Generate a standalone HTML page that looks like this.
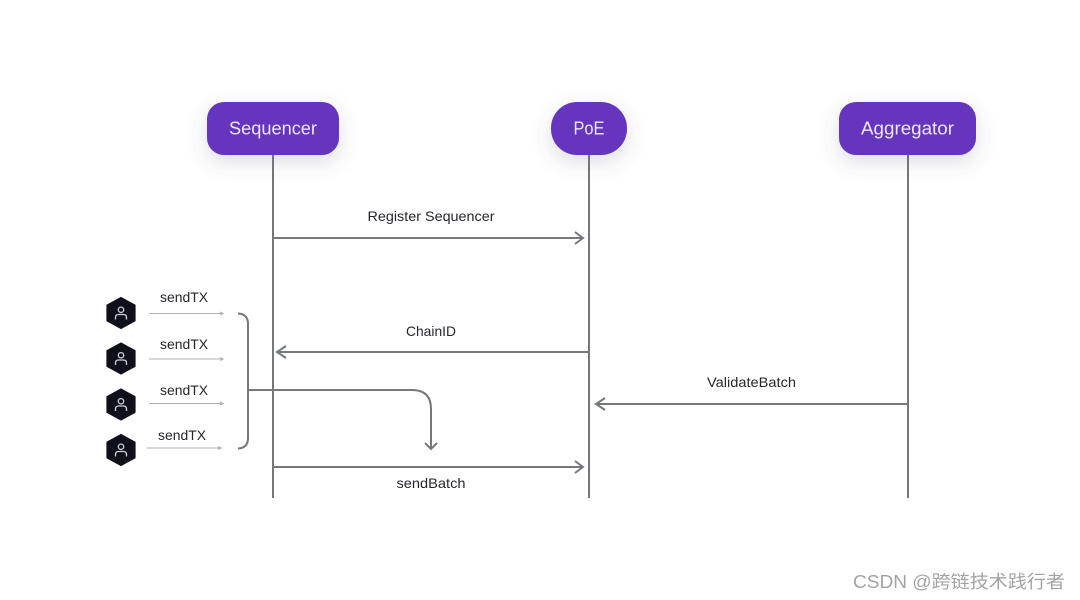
<!DOCTYPE html>
<html><head><meta charset="utf-8"><style>
html,body{margin:0;padding:0;background:#fff}
svg{display:block;filter:blur(0.3px)}
text{font-family:"Liberation Sans",sans-serif}
</style></head><body>
<svg width="1080" height="600" viewBox="0 0 1080 600" xmlns="http://www.w3.org/2000/svg">
<defs>
<filter id="s" x="-40%" y="-60%" width="180%" height="260%"><feDropShadow dx="0" dy="7" stdDeviation="10" flood-color="#5a5a78" flood-opacity="0.2"/></filter>
<g id="u"><path d="M0-15.500 14-7.800V7.800L0 15.500-14 7.800V-7.800Z" fill="#10101a" stroke="#10101a" stroke-width="1.200" stroke-linejoin="round"/><circle cx="0" cy="-3.200" r="2.700" fill="none" stroke="#d0d0d6" stroke-width="1.300"/><path d="M-5.500 6.500V4.500Q-5.500 1.500-2.500 1.500H2.500Q5.500 1.500 5.500 4.500V6.500" fill="none" stroke="#d0d0d6" stroke-width="1.300"/></g>
</defs>
<rect width="1080" height="600" fill="#fff"/>
<g stroke="#74777c" stroke-width="2" fill="none">
<path d="M273 154V498M589 154V498M908 154V498"/>
<path d="M273 238H582M575 232 583 238 575 244"/>
<path d="M589 352H278M286 346 277 352 286 358"/>
<path d="M908 404H597M605 398 596 404 605 410"/>
<path d="M273 467H582M575 461 583 467 575 473"/>
<path d="M248 390H412Q431 390 431 409V448M425 443 431 449 437 443"/>
<path d="M238 313.500Q248 314 248 324V438Q248 448 238 448.500"/>
</g>
<g stroke="#adb0b4" stroke-width="1.100" fill="none">
<path d="M149 313.500H222M220 312 223 313.500 220 315"/>
<path d="M149 359H222M220 357.500 223 359 220 360.500"/>
<path d="M149 403.500H222M220 402 223 403.500 220 405"/>
<path d="M147 448H221M218 446.500 221 448 218 449.500"/>
</g>
<g fill="#6535bd" filter="url(#s)">
<rect x="207" y="102" width="132" height="53" rx="17"/>
<rect x="551" y="102" width="76" height="53" rx="26"/>
<rect x="839" y="102" width="137" height="53" rx="17"/>
</g>
<g fill="#efe6fb" font-size="18" text-anchor="middle">
<text x="273" y="134.500" textLength="88" lengthAdjust="spacingAndGlyphs">Sequencer</text>
<text x="589" y="134.500" textLength="31" lengthAdjust="spacingAndGlyphs">PoE</text>
<text x="907.500" y="134.500" textLength="93" lengthAdjust="spacingAndGlyphs">Aggregator</text>
</g>
<g fill="#26262c" font-size="14" text-anchor="middle">
<text x="431" y="221" textLength="127" lengthAdjust="spacingAndGlyphs">Register Sequencer</text>
<text x="431" y="336" textLength="50" lengthAdjust="spacingAndGlyphs">ChainID</text>
<text x="751.500" y="387" textLength="89" lengthAdjust="spacingAndGlyphs">ValidateBatch</text>
<text x="431" y="488" textLength="69" lengthAdjust="spacingAndGlyphs">sendBatch</text>
<text x="184" y="302" textLength="48" lengthAdjust="spacingAndGlyphs">sendTX</text>
<text x="184" y="349" textLength="48" lengthAdjust="spacingAndGlyphs">sendTX</text>
<text x="184" y="395" textLength="48" lengthAdjust="spacingAndGlyphs">sendTX</text>
<text x="182" y="440" textLength="48" lengthAdjust="spacingAndGlyphs">sendTX</text>
</g>
<use href="#u" x="121" y="313"/>
<use href="#u" x="121" y="358.500"/>
<use href="#u" x="121" y="404.500"/>
<use href="#u" x="121" y="450"/>
<text x="853" y="588" font-size="18" fill="#a3a3a3" style="font-family:'Liberation Sans','Noto Sans CJK SC',sans-serif" textLength="212" lengthAdjust="spacingAndGlyphs">CSDN @跨链技术践行者</text>
</svg>
</body></html>
